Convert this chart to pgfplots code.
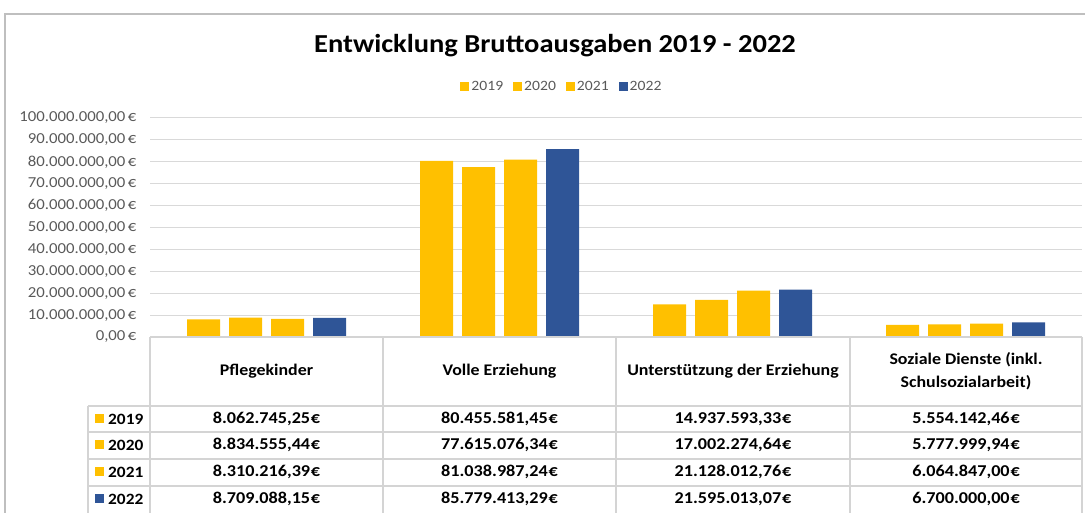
\documentclass[border=0pt]{standalone}
\usepackage{pgfplots}
\pgfplotsset{compat=1.18}
\usepackage{fontspec}
\setmainfont{Carlito}[FakeStretch=1.1]
\definecolor{yel}{HTML}{FFC000}
\definecolor{blu}{HTML}{2F5597}
\definecolor{gridc}{HTML}{D9D9D9}
\definecolor{tickc}{HTML}{595959}
\definecolor{tabc}{HTML}{D4D4D4}
\definecolor{framec}{HTML}{BFBFBF}
\newcommand\tabrow[7]{%
  \fill[#3] (95,#1-4.5) rectangle (104,#1+4.5);
  \node[anchor=west, inner sep=0pt, font=\fontsize{15.8}{19}\selectfont\bfseries] at (108,#1) {#2};
  \node at (266.5,#1) {#4\kern0.8bp€};
  \node at (499.5,#1) {#5\kern0.8bp€};
  \node at (733,#1) {#6\kern0.8bp€};
  \node at (966,#1) {#7\kern0.8bp€};
}
\begin{document}
\begin{tikzpicture}[x=1bp,y=1bp]
\path[use as bounding box] (0,0) rectangle (1085,513);
\draw[framec, line width=1.2bp] (5,0) -- (5,499) -- (1085,499);
\node[font=\fontsize{26}{30}\selectfont\bfseries] at (555,467) {Entwicklung Bruttoausgaben 2019 - 2022};
\begin{axis}[
  at={(150bp,176bp)}, anchor=south west,
  scale only axis, width=932bp, height=219bp,
  xmin=-0.5, xmax=3.5, ymin=0, ymax=100000000,
  ybar=9bp, bar width=33bp,
  axis line style={draw=none},
  xtick=\empty, scaled y ticks=false,
  ytick={0,10000000,20000000,30000000,40000000,50000000,60000000,70000000,80000000,90000000,100000000},
  yticklabels={{0,00\,€},{10.000.000,00\,€},{20.000.000,00\,€},{30.000.000,00\,€},{40.000.000,00\,€},{50.000.000,00\,€},{60.000.000,00\,€},{70.000.000,00\,€},{80.000.000,00\,€},{90.000.000,00\,€},{100.000.000,00\,€}},
  yticklabel style={font=\fontsize{15.3}{18}\selectfont, color=tickc, xshift=-10bp},
  major tick length=0pt,
  ymajorgrids, grid style={gridc, line width=1bp},
  legend columns=4,
  legend style={at={(axis description cs:0.442,1.1416)}, anchor=center, draw=none, fill=none,
    font=\fontsize{14.3}{16}\selectfont, text=tickc,
    /tikz/every even column/.append style={column sep=8bp}},
  legend image code/.code={\fill[#1] (0bp,-4.5bp) rectangle (9bp,4.5bp);},
  clip=false,
]
\addplot[fill=yel, draw=none] coordinates {(0,8062745.25) (1,80455581.45) (2,14937593.33) (3,5554142.46)};
\addplot[fill=yel, draw=none] coordinates {(0,8834555.44) (1,77615076.34) (2,17002274.64) (3,5777999.94)};
\addplot[fill=yel, draw=none] coordinates {(0,8310216.39) (1,81038987.24) (2,21128012.76) (3,6064847.00)};
\addplot[fill=blu, draw=none] coordinates {(0,8709088.15) (1,85779413.29) (2,21595013.07) (3,6700000.00)};
\legend{2019,2020,2021,2022}
\end{axis}
% table
\begin{scope}[tabc, line width=1.2bp]
\draw (150,176) -- (1082,176);
\draw (88,107) -- (1082,107);
\draw (88,81) -- (1082,81);
\draw (88,54) -- (1082,54);
\draw (88,27) -- (1082,27);
\foreach \xx in {150,383,616,850,1082} \draw (\xx,176) -- (\xx,0);
\draw (88,107) -- (88,0);
\end{scope}
\begin{scope}[every node/.style={font=\fontsize{16.6}{19}\selectfont\bfseries}]
\begin{scope}[every node/.style={font=\fontsize{16.3}{23}\selectfont\bfseries}]
\node at (266.5,142) {Pflegekinder};
\node at (499.5,142) {Volle Erziehung};
\node at (733,142) {Unterstützung der Erziehung};
\node[align=center] at (966,142) {Soziale Dienste (inkl.\\Schulsozialarbeit)};
\end{scope}
\tabrow{94}{2019}{yel}{8.062.745,25}{80.455.581,45}{14.937.593,33}{5.554.142,46}
\tabrow{68}{2020}{yel}{8.834.555,44}{77.615.076,34}{17.002.274,64}{5.777.999,94}
\tabrow{41}{2021}{yel}{8.310.216,39}{81.038.987,24}{21.128.012,76}{6.064.847,00}
\tabrow{14}{2022}{blu}{8.709.088,15}{85.779.413,29}{21.595.013,07}{6.700.000,00}
\end{scope}
\end{tikzpicture}
\end{document}
